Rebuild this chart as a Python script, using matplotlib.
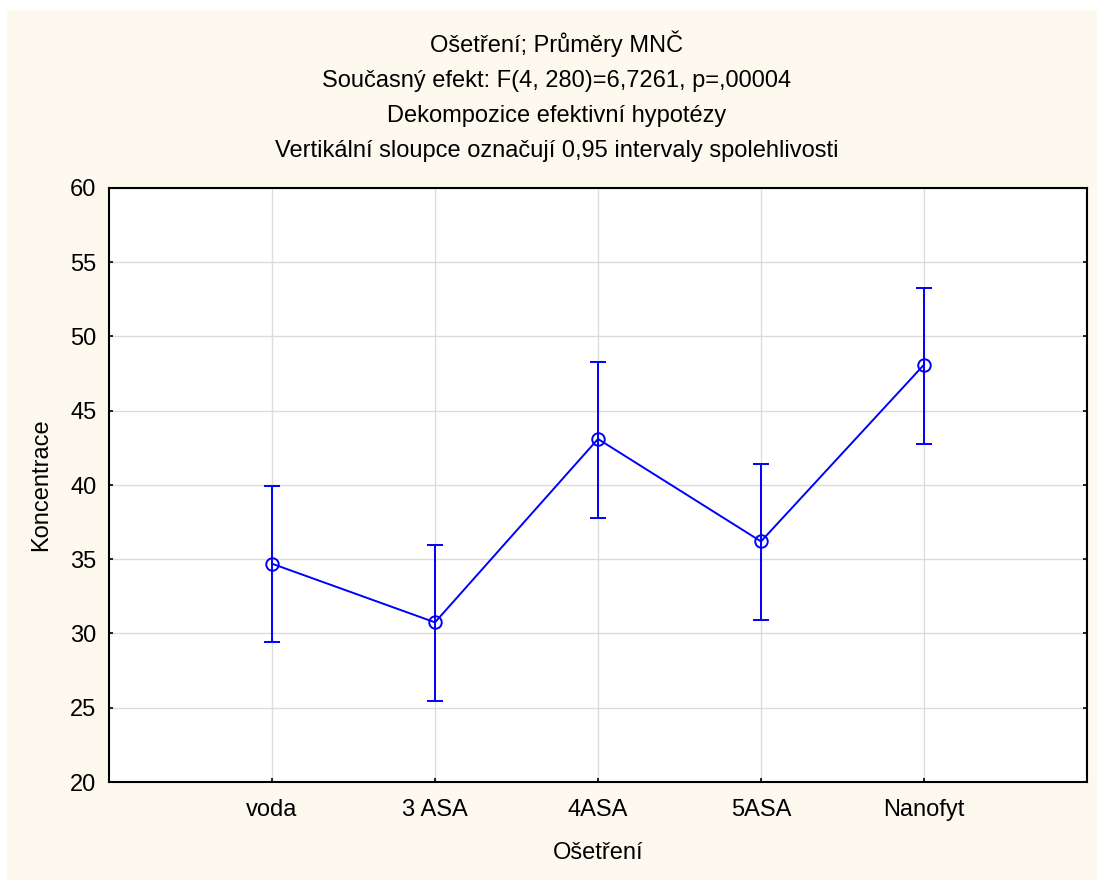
import matplotlib.pyplot as plt
from matplotlib.patches import Rectangle

plt.rcParams['font.family'] = ['Liberation Sans', 'DejaVu Sans']

groups = ['voda', '3 ASA', '4ASA', '5ASA', 'Nanofyt']
means = [34.7, 30.75, 43.1, 36.2, 48.1]
lower = [29.4, 25.45, 37.8, 30.9, 42.75]
upper = [39.9, 35.95, 48.3, 41.4, 53.25]

titles = ['Ošetření; Průměry MNČ',
          'Současný efekt: F(4, 280)=6,7261, p=,00004',
          'Dekompozice efektivní hypotézy',
          'Vertikální sloupce označují 0,95 intervaly spolehlivosti']

fig = plt.figure(figsize=(10.97, 8.8), dpi=100, facecolor='white')
fig.patches.append(Rectangle((7 / 1097, 0), 1, 870 / 880, transform=fig.transFigure,
                             facecolor='#fef9ef', edgecolor='none', zorder=-10))

ax = fig.add_axes([109 / 1097, 1 - 782 / 880, 978 / 1097, 594 / 880])
ax.set_facecolor('white')

x = list(range(len(groups)))
yerr = [[m - l for m, l in zip(means, lower)], [u - m for m, u in zip(means, upper)]]
ax.errorbar(x, means, yerr=yerr, color='#0000ff', lw=1.4, elinewidth=1.4,
            capsize=6, capthick=1.4, marker='o', markersize=9,
            markerfacecolor='none', markeredgecolor='#0000ff', markeredgewidth=1.4, zorder=3)

ax.set_xlim(-1, 5)
ax.set_ylim(20, 60)
ax.set_xticks(x)
ax.set_xticklabels(groups)
ax.set_yticks(range(20, 61, 5))
ax.grid(True, color='#dcdcdc', lw=1)
ax.set_axisbelow(True)
ax.tick_params(axis='both', direction='in', length=3, width=1.2, labelsize=17,
               right=True, top=False)
ax.tick_params(axis='y', pad=9)
ax.tick_params(axis='x', pad=12)
for s in ax.spines.values():
    s.set_linewidth(1.5)

ax.set_xlabel('Ošetření', fontsize=17, labelpad=15)
ax.set_ylabel('Koncentrace', fontsize=17, labelpad=13)

ys = [44, 81, 116, 151]
for t, yy in zip(titles, ys):
    fig.text(557 / 1097, 1 - yy / 880, t, ha='center', va='center', fontsize=17)

fig.savefig('out.png', dpi=100, facecolor=fig.get_facecolor())
